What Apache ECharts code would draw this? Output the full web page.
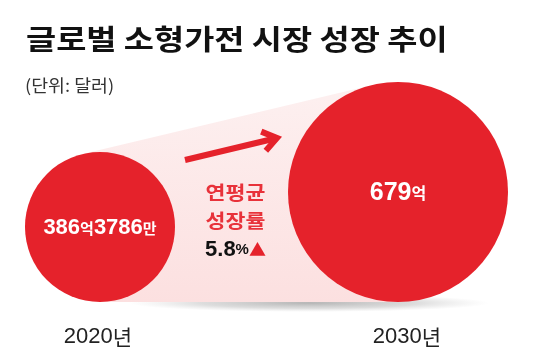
<!DOCTYPE html>
<html>
<head>
<meta charset="utf-8">
<script src="https://cdn.jsdelivr.net/npm/echarts@6/dist/echarts.min.js"></script>
<style>
html,body{margin:0;padding:0;background:#fff;}
#main{width:533px;height:360px;}
</style>
</head>
<body>
<div id="main"></div>
<script>
// ---- data ----
const titleText = '글로벌 소형가전 시장 성장 추이';
const unitText = '(단위: 달러)';
const years = ['2020년', '2030년'];
const marketValues = [386.3786, 679]; // 억 달러
const cagrLabel = ['연평균', '성장률'];
const cagrValue = 5.8; // %

// ---- style ----
const RED = '#e5222b';
const KR = '"Noto Sans CJK KR", "Noto Sans CJK SC", sans-serif';
const NUM = '"Liberation Sans", Arial, sans-serif';
const digitSize = [22, 25];
const unitSize = [15, 16];
const yearDx = [-2, 9];

function radiusOf(v) { return 28.8 + 0.1196 * v; }

function valueRich(v, i) {
  const eok = Math.floor(v);
  const man = Math.round((v - eok) * 10000);
  return man ? `{n${i}|${eok}}{u${i}|억}{n${i}|${man}}{u${i}|만}` : `{n${i}|${eok}}{u${i}|억}`;
}

const rich = {};
[0, 1].forEach(i => {
  rich['n' + i] = { fontFamily: NUM, fontWeight: 'bold', fontSize: digitSize[i], fill: '#fff' };
  rich['u' + i] = { fontFamily: KR, fontWeight: 'bold', fontSize: unitSize[i], fill: '#fff' };
});

function renderItem(params, api) {
  const i = params.dataIndex;
  const v = api.value(1);
  const base = api.coord([api.value(0), 0]);
  const r = radiusOf(v);
  const cx = base[0], cy = base[1] - r;
  const children = [];
  if (i === 0) {
    const b2 = api.coord([1, 0]);
    const r2 = radiusOf(marketValues[1]);
    const c2x = b2[0], c2y = b2[1] - r2;
    // shadow
    children.push({
      type: 'circle',
      shape: { cx: 0, cy: 0, r: 9 },
      x: (cx + c2x) / 2 + 60, y: base[1] + 1, scaleX: 20, scaleY: 1,
      style: { fill: { type: 'radial', x: 0.5, y: 0.5, r: 0.5, colorStops: [
        { offset: 0, color: 'rgba(90,90,90,0.45)' },
        { offset: 0.6, color: 'rgba(120,120,120,0.25)' },
        { offset: 1, color: 'rgba(160,160,160,0)' }] } },
      z2: 0
    });
    // cone (external tangents)
    const dx = c2x - cx, dy = c2y - cy, D = Math.hypot(dx, dy);
    const th = Math.atan2(dy, dx), al = Math.acos((r - r2) / D);
    const a1 = th - al, a2 = th + al;
    const p1u = [cx + r * Math.cos(a1), cy + r * Math.sin(a1)];
    const p2u = [c2x + r2 * Math.cos(a1), c2y + r2 * Math.sin(a1)];
    const p1l = [cx + r * Math.cos(a2), cy + r * Math.sin(a2)];
    const p2l = [c2x + r2 * Math.cos(a2), c2y + r2 * Math.sin(a2)];
    children.push({
      type: 'polygon',
      shape: { points: [p1u, p2u, [c2x, c2y], p2l, p1l, [cx, cy]] },
      style: { fill: { type: 'linear', x: 0, y: 0, x2: 0, y2: 1, colorStops: [
        { offset: 0, color: '#fdf0f0' }, { offset: 1, color: '#fce0e0' }] } },
      z2: 1
    });
    // arrow
    const s = [cx + 85, cy - 67], e = [c2x - 121, c2y - 54];
    const ang = Math.atan2(e[1] - s[1], e[0] - s[0]);
    const L = 17, spread = 0.62;
    children.push({
      type: 'polyline',
      shape: { points: [s, e] },
      style: { stroke: RED, lineWidth: 6, fill: null },
      z2: 2
    });
    children.push({
      type: 'polyline',
      shape: { points: [
        [e[0] - L * Math.cos(ang - spread), e[1] - L * Math.sin(ang - spread)],
        [e[0], e[1]],
        [e[0] - L * Math.cos(ang + spread), e[1] - L * Math.sin(ang + spread)]] },
      style: { stroke: RED, lineWidth: 6, fill: null, lineJoin: 'miter', lineCap: 'butt' },
      z2: 2
    });
    // growth text
    const mx = (cx + r + c2x - r2) / 2 + 4;
    children.push({
      type: 'text', x: mx, y: 193, z2: 3, scaleX: 1.14,
      style: { text: cagrLabel[0], font: 'bold 19px ' + KR, fill: '#e8323a', align: 'center', verticalAlign: 'middle' }
    });
    children.push({
      type: 'text', x: mx, y: 221, z2: 3, scaleX: 1.14,
      style: { text: cagrLabel[1], font: 'bold 19px ' + KR, fill: '#e8323a', align: 'center', verticalAlign: 'middle' }
    });
    children.push({
      type: 'text', x: mx, y: 250, z2: 3,
      style: {
        text: `{v|${cagrValue.toFixed(1)}}{p|%}{t|▲}`,
        align: 'center', verticalAlign: 'middle',
        rich: {
          v: { fontFamily: NUM, fontWeight: 'bold', fontSize: 22, fill: '#111' },
          p: { fontFamily: NUM, fontWeight: 'bold', fontSize: 15, fill: '#111' },
          t: { fontFamily: KR, fontSize: 17, fill: RED }
        }
      }
    });
  }
  children.push({
    type: 'circle', shape: { cx: cx, cy: cy, r: r },
    style: { fill: RED }, z2: 5
  });
  children.push({
    type: 'text', x: cx, y: cy + 1, z2: 6,
    style: { text: valueRich(v, i), align: 'center', verticalAlign: 'middle', rich: rich }
  });
  const yr = years[i];
  children.push({
    type: 'text', x: cx + yearDx[i], y: base[1] + 35, z2: 6,
    style: {
      text: `{d|${yr.replace('년', '')}}{k|년}`, align: 'center', verticalAlign: 'middle',
      rich: {
        d: { fontFamily: NUM, fontSize: 22, fill: '#222' },
        k: { fontFamily: KR, fontSize: 21, fill: '#222' }
      }
    }
  });
  return { type: 'group', children: children };
}

const chart = echarts.init(document.getElementById('main'), null, { renderer: 'canvas' });
chart.setOption({
  backgroundColor: '#fff',
  animation: false,
  grid: { left: 100, right: 135, top: 60, bottom: 58 },
  xAxis: { type: 'value', min: 0, max: 1, show: false },
  yAxis: { type: 'value', min: 0, max: 1, show: false },
  graphic: [
    { type: 'text', x: 26, y: 39, scaleX: 1.17, style: { text: titleText, font: 'bold 28px ' + KR, fill: '#111', verticalAlign: 'middle' } },
    { type: 'text', x: 25, y: 86, scaleX: 1.08, style: { text: unitText, font: '17px ' + KR, fill: '#333', verticalAlign: 'middle' } }
  ],
  series: [{
    type: 'custom',
    renderItem: renderItem,
    clip: false,
    encode: { x: 0, y: 1 },
    data: marketValues.map((v, i) => [i, v])
  }]
});
</script>
</body>
</html>
